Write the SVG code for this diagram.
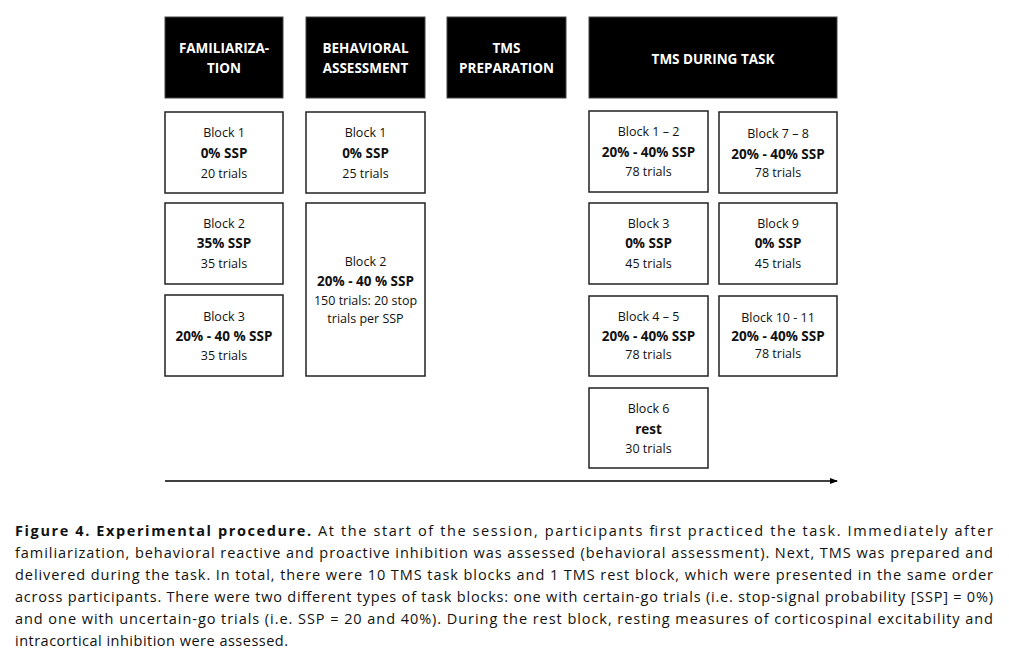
<svg xmlns="http://www.w3.org/2000/svg" width="1009" height="656" viewBox="0 0 1009 656">
<defs>
<style>
.hdr{fill:#000;stroke:#444;stroke-width:1}
.box{fill:#fff;stroke:#222;stroke-width:1.5}
.ht{font-family:"Open Sans","Liberation Sans",sans-serif;font-size:13.5px;font-weight:bold;fill:#fff;text-anchor:middle}
.t{font-family:"Open Sans","Liberation Sans",sans-serif;font-size:12.5px;fill:#111;text-anchor:middle}
.b{font-family:"Open Sans","Liberation Sans",sans-serif;font-size:13.5px;font-weight:bold;fill:#111;text-anchor:middle}
.cap{font-family:"Open Sans","Liberation Sans",sans-serif;font-size:14.5px;fill:#111}
</style>
<marker id="arr" markerWidth="8" markerHeight="6" refX="7" refY="3" orient="auto" markerUnits="userSpaceOnUse">
<path d="M0,0 L8,3 L0,6 Z" fill="#000"/>
</marker>
</defs>
<rect width="1009" height="656" fill="#fff"/>

<g id="h-fam"><rect class="hdr" x="165" y="17" width="118" height="81"/><text class="ht" x="224" y="53">FAMILIARIZA-</text><text class="ht" x="224" y="73">TION</text></g>
<g id="h-beh"><rect class="hdr" x="306" y="17" width="119" height="81"/><text class="ht" x="365.5" y="53">BEHAVIORAL</text><text class="ht" x="365.5" y="73">ASSESSMENT</text></g>
<g id="h-prep"><rect class="hdr" x="447" y="17" width="119" height="81"/><text class="ht" x="506.5" y="53">TMS</text><text class="ht" x="506.5" y="73">PREPARATION</text></g>
<g id="h-tms"><rect class="hdr" x="589" y="17" width="248" height="81"/><text class="ht" x="713" y="64">TMS DURING TASK</text></g>

<g id="fam-b1"><rect class="box" x="165" y="112" width="118" height="81"/><text class="t" x="224" y="137">Block 1</text><text class="b" x="224" y="158">0% SSP</text><text class="t" x="224" y="178">20 trials</text></g>
<g id="fam-b2"><rect class="box" x="165" y="203" width="118" height="81"/><text class="t" x="224" y="228">Block 2</text><text class="b" x="224" y="248">35% SSP</text><text class="t" x="224" y="268">35 trials</text></g>
<g id="fam-b3"><rect class="box" x="165" y="295" width="118" height="81"/><text class="t" x="224" y="321">Block 3</text><text class="b" x="224" y="341">20% - 40 % SSP</text><text class="t" x="224" y="360">35 trials</text></g>

<g id="beh-b1"><rect class="box" x="306" y="112" width="119" height="81"/><text class="t" x="365.5" y="137">Block 1</text><text class="b" x="365.5" y="158">0% SSP</text><text class="t" x="365.5" y="178">25 trials</text></g>
<g id="beh-b2"><rect class="box" x="306" y="203" width="119" height="173"/><text class="t" x="365.5" y="266">Block 2</text><text class="b" x="365.5" y="286">20% - 40 % SSP</text><text class="t" x="365.5" y="305">150 trials: 20 stop</text><text class="t" x="365.5" y="323">trials per SSP</text></g>

<g id="tms-b12"><rect class="box" x="589" y="111" width="119" height="81"/><text class="t" x="648.5" y="136">Block 1 – 2</text><text class="b" x="648.5" y="157">20% - 40% SSP</text><text class="t" x="648.5" y="176">78 trials</text></g>
<g id="tms-b3"><rect class="box" x="589" y="203" width="119" height="81"/><text class="t" x="648.5" y="228">Block 3</text><text class="b" x="648.5" y="248">0% SSP</text><text class="t" x="648.5" y="268">45 trials</text></g>
<g id="tms-b45"><rect class="box" x="589" y="296" width="119" height="80"/><text class="t" x="648.5" y="321">Block 4 – 5</text><text class="b" x="648.5" y="341">20% - 40% SSP</text><text class="t" x="648.5" y="359">78 trials</text></g>
<g id="tms-b6"><rect class="box" x="589" y="388" width="119" height="80"/><text class="t" x="648.5" y="413">Block 6</text><text class="b" x="648.5" y="434">rest</text><text class="t" x="648.5" y="453">30 trials</text></g>

<g id="tms-b78"><rect class="box" x="719" y="112" width="118" height="81"/><text class="t" x="778" y="138">Block 7 – 8</text><text class="b" x="778" y="159">20% - 40% SSP</text><text class="t" x="778" y="177">78 trials</text></g>
<g id="tms-b9"><rect class="box" x="719" y="203" width="118" height="81"/><text class="t" x="778" y="228">Block 9</text><text class="b" x="778" y="248">0% SSP</text><text class="t" x="778" y="268">45 trials</text></g>
<g id="tms-b1011"><rect class="box" x="719" y="296" width="118" height="80"/><text class="t" x="778" y="322">Block 10 - 11</text><text class="b" x="778" y="341">20% - 40% SSP</text><text class="t" x="778" y="358">78 trials</text></g>

<g id="connectors">
<line x1="165" y1="481" x2="837" y2="481" stroke="#000" stroke-width="1.3" marker-end="url(#arr)"/>
</g>

<g id="caption">
<text class="cap" x="15" y="536" textLength="978" lengthAdjust="spacing"><tspan font-weight="bold">Figure 4. Experimental procedure.</tspan> At the start of the session, participants first practiced the task. Immediately after</text>
<text class="cap" x="15" y="558" textLength="978" lengthAdjust="spacing">familiarization, behavioral reactive and proactive inhibition was assessed (behavioral assessment). Next, TMS was prepared and</text>
<text class="cap" x="15" y="580" textLength="978" lengthAdjust="spacing">delivered during the task. In total, there were 10 TMS task blocks and 1 TMS rest block, which were presented in the same order</text>
<text class="cap" x="15" y="602" textLength="978" lengthAdjust="spacing">across participants. There were two different types of task blocks: one with certain-go trials (i.e. stop-signal probability [SSP] = 0%)</text>
<text class="cap" x="15" y="624" textLength="978" lengthAdjust="spacing">and one with uncertain-go trials (i.e. SSP = 20 and 40%). During the rest block, resting measures of corticospinal excitability and</text>
<text class="cap" x="15" y="646" textLength="273" lengthAdjust="spacing">intracortical inhibition were assessed.</text>
</g>
</svg>
